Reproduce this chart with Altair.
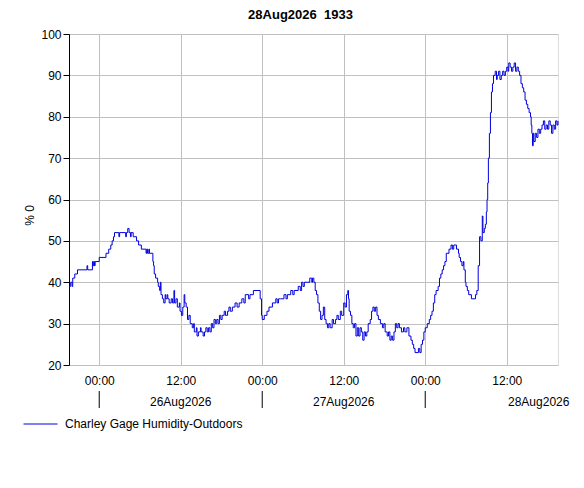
import altair as alt
import pandas as pd

# hours relative to 26Aug2026 00:00 (UTC clock), humidity in %
hours = [
    -4.45, -4.2, -4.0, -3.9, -3.6, -3.2, -1.8, -1.7, -1.0, -0.9, -0.8, -0.7, -0.6, 0.0,
    1.0, 1.4, 1.7, 1.9, 2.1, 2.25, 2.9, 3.0, 3.9, 4.0, 4.2, 4.4, 4.6, 4.7, 5.0, 5.5,
    5.8, 6.2, 6.9, 7.0, 7.1, 7.3, 7.4, 7.9, 8.0, 8.1, 8.3, 8.6, 8.7, 8.9, 9.0, 9.1,
    9.3, 9.5, 9.7, 9.8, 10.0, 10.1, 10.3, 10.6, 10.8, 11.0, 11.1, 11.3, 11.5, 11.8,
    11.9, 12.1, 12.3, 12.5, 12.6, 12.8, 13.0, 13.2, 13.4, 13.7, 13.9, 14.0, 14.3,
    14.4, 14.6, 14.9, 15.0, 15.3, 15.5, 15.7, 15.9, 16.1, 16.3, 16.5, 16.7, 16.9,
    17.1, 17.3, 17.5, 17.7, 17.9, 18.1, 18.4, 18.6, 18.9, 19.1, 19.3, 19.6, 20.0,
    20.3, 20.6, 21.0, 21.3, 21.5, 22.0, 22.2, 22.7, 23.7, 23.9, 24.0, 24.3, 24.7,
    25.0, 25.5, 26.0, 26.2, 26.4, 26.7, 27.2, 27.5, 27.7, 28.2, 28.5, 28.7, 29.3,
    29.6, 29.8, 30.0, 30.2, 30.6, 31.0, 31.3, 31.4, 31.6, 31.8, 32.0, 32.2, 32.4,
    32.6, 32.8, 33.0, 33.2, 33.4, 33.6, 33.8, 34.0, 34.3, 34.5, 34.8, 35.0, 35.2,
    35.5, 35.7, 36.0, 36.2, 36.4, 36.6, 36.7, 36.8, 37.0, 37.2, 37.4, 37.6, 37.8,
    38.0, 38.2, 38.4, 38.6, 38.8, 39.0, 39.2, 39.4, 39.6, 39.9, 40.1, 40.3, 40.5,
    40.7, 40.9, 41.1, 41.4, 41.7, 41.9, 42.1, 42.4, 42.6, 42.8, 43.0, 43.2, 43.4,
    43.6, 43.8, 44.0, 44.2, 44.5, 44.8, 45.0, 45.3, 45.6, 45.9, 46.1, 46.3, 46.5,
    47.0, 47.2, 47.4, 47.6, 47.8, 48.0, 48.3, 48.6, 48.8, 49.0, 49.2, 49.4, 49.6,
    49.9, 50.1, 50.3, 50.5, 50.7, 50.9, 51.1, 51.5, 51.8, 52.0, 52.2, 52.6, 52.9,
    53.0, 53.2, 53.4, 53.6, 53.7, 53.9, 54.0, 54.2, 54.4, 54.8, 55.4, 55.6, 55.8,
    56.0, 56.2, 56.4, 56.5, 56.7, 56.85, 57.0, 57.1, 57.2, 57.3, 57.45, 57.6, 57.75,
    57.9, 58.05, 58.3, 58.5, 58.6, 58.8, 59.0, 59.2, 59.4, 59.6, 59.8, 60.0, 60.2,
    60.3, 60.5, 60.7, 60.9, 61.1, 61.3, 61.5, 61.7, 61.9, 62.1, 62.3, 62.5, 62.7,
    62.9, 63.1, 63.3, 63.5, 63.6, 63.7, 63.8, 63.9, 64.0, 64.2, 64.4, 64.6, 64.8,
    65.0, 65.2, 65.4, 65.6, 65.8, 66.0, 66.2, 66.4, 66.6, 66.8, 67.0, 67.2, 67.4, 67.55,
]
humidity = [
    39, 40, 39, 41, 42, 43, 44, 43, 45, 44, 45, 44, 45, 46,
    47, 48, 49, 50, 51, 52, 51, 52, 51, 52, 53, 52, 51, 52, 51, 50,
    49, 48, 47, 48, 47, 48, 47, 45, 44, 42, 41, 40, 39, 38, 40, 37,
    36, 35, 37, 36, 37, 36, 35, 36, 35, 38, 35, 36, 34, 35,
    33, 32, 34, 37, 35, 34, 31, 32, 30, 29, 30, 28, 29,
    27, 28, 29, 28, 27, 28, 29, 28, 29, 28, 30, 29, 31,
    30, 31, 30, 32, 31, 32, 33, 32, 33, 34, 33, 34, 35,
    34, 35, 36, 35, 37, 36, 37, 38, 36, 32, 31, 32, 33,
    34, 35, 36, 35, 36, 36, 37, 36, 37, 38, 37, 38, 39,
    38, 40, 39, 40, 40, 41, 40, 41, 40, 38, 37, 35, 33,
    31, 32, 34, 31, 30, 29, 30, 29, 31, 30, 31, 32, 31,
    33, 32, 35, 34, 37, 38, 36, 33, 32, 30, 29, 30, 27,
    29, 27, 29, 28, 26, 28, 27, 28, 30, 31, 33, 34, 33,
    34, 32, 31, 30, 29, 30, 28, 27, 28, 26, 27, 26, 28,
    30, 29, 30, 29, 28, 29, 28, 29, 27, 26, 25, 24, 23,
    24, 23, 25, 26, 28, 29, 30, 31, 32, 33, 35, 37, 38,
    39, 41, 42, 43, 44, 45, 47, 48, 49, 48, 49, 48, 47,
    46, 45, 44, 45, 43, 40, 39, 38, 37, 36, 37, 38, 44,
    51, 50, 56, 52, 53, 54, 57, 60, 64, 70, 76, 81, 86,
    88, 90, 91, 89, 90, 91, 89, 90, 91, 90, 91, 92, 91,
    93, 92, 91, 92, 93, 91, 92, 91, 90, 88, 87, 86, 84,
    83, 82, 81, 80, 78, 76, 73, 76, 74, 76, 75, 77, 76,
    77, 78, 79, 77, 78, 77, 79, 78, 76, 78, 77, 79, 78, 79,
]
series_name = "Charley Gage Humidity-Outdoors"
day_labels = ["26Aug2026", "27Aug2026", "28Aug2026"]
day_start_hours = [0, 24, 48]
day_label_hours = [12, 36, 60]
grid_hours = [0, 12, 24, 36, 48, 60]
y_ticks = [20, 30, 40, 50, 60, 70, 80, 90, 100]

HOUR = 3600000
base = pd.Timestamp("2026-08-26", tz="UTC").value // 10**6

df = pd.DataFrame({
    "time": [base + h * HOUR for h in hours],
    "humidity": humidity,
    "series": series_name,
})
days = pd.DataFrame({"time": [base + h * HOUR for h in day_start_hours]})
labels = pd.DataFrame({
    "time": [base + h * HOUR for h in day_label_hours],
    "label": day_labels,
    "idx": [0, 1, 2],
})

W, H = 489, 331
FONT = "Liberation Sans"
BLUE = "#0000dd"

xaxis = alt.Axis(
    title=None, values=[base + h * HOUR for h in grid_hours],
    labelExpr="utcFormat(datum.value, '%H:%M')",
    ticks=False, domain=False, labelFontSize=12, labelFont=FONT,
    labelColor="black", labelPadding=10, gridColor="#c0c0c0", gridOpacity=1,
    labelFlush=False,
)
xscale = alt.Scale(type="utc", domain=[base - 4.45 * HOUR, base + 67.55 * HOUR], nice=False)

line = alt.Chart(df).mark_line(interpolate="step-after", strokeWidth=1).encode(
    x=alt.X("time:T", scale=xscale, axis=xaxis),
    y=alt.Y(
        "humidity:Q",
        scale=alt.Scale(domain=[20, 100], nice=False),
        axis=alt.Axis(
            title="% 0", values=y_ticks, tickSize=6, tickColor="black",
            domainColor="black", labelFontSize=12, labelFont=FONT, labelColor="black",
            labelPadding=2, gridColor="#c0c0c0", gridOpacity=1,
            titleFontSize=12, titleFont=FONT, titleFontWeight="normal",
            titleColor="black", titleAngle=270, titleX=-40, titleY=181,
            titleBaseline="middle", titleAlign="center",
        ),
    ),
    color=alt.Color(
        "series:N",
        scale=alt.Scale(domain=[series_name], range=[BLUE]),
        legend=alt.Legend(
            title=None, orient="none", legendX=-46, legendY=372.5,
            symbolType="stroke", symbolSize=1156, symbolStrokeWidth=1,
            symbolStrokeColor=BLUE,
            labelFontSize=12, labelFont=FONT, labelColor="black", labelOffset=7,
            labelLimit=400, padding=0,
        ),
    ),
)

day_ticks = alt.Chart(days).mark_rule(color="black", strokeWidth=1).encode(
    x=alt.X("time:T", axis=xaxis),
    y=alt.value(H + 26),
    y2=alt.value(H + 43),
)

day_text = alt.Chart(labels).transform_filter("datum.idx < 2").mark_text(
    font=FONT, fontSize=12, color="black", baseline="middle", align="center"
).encode(
    x=alt.X("time:T", axis=xaxis),
    y=alt.value(H + 37),
    text="label:N",
)

last_text = alt.Chart(labels).transform_filter("datum.idx == 2").mark_text(
    font=FONT, fontSize=12, color="black", baseline="middle", align="center", dx=32
).encode(
    x=alt.X("time:T", axis=xaxis),
    y=alt.value(H + 37),
    text="label:N",
)

chart = alt.layer(line, day_ticks, day_text, last_text).properties(
    width=W, height=H,
    title=alt.TitleParams(
        "28Aug2026\u00a0 1933", fontSize=13, fontWeight="bold", font=FONT,
        color="black", offset=6, dx=-13,
    ),
    autosize=alt.AutoSizeParams(type="none"),
    padding={"left": 61, "top": 26, "right": 18, "bottom": 115},
).configure_view(stroke="black", strokeWidth=1).configure(background="white")

chart.save("out.html", embed_options={"renderer": "svg", "actions": False})
